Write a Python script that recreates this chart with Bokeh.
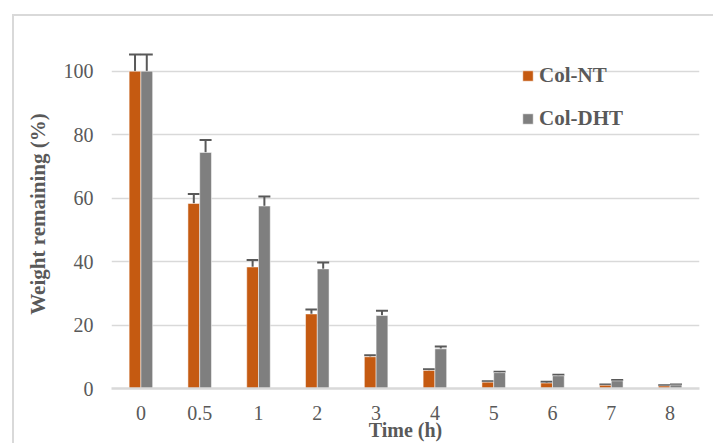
from bokeh.plotting import figure
from bokeh.models import (ColumnDataSource, FactorRange, Range1d, FixedTicker, Whisker, TeeHead,
                          Legend, LegendItem)
from bokeh.transform import dodge
from bokeh.embed import file_html
from bokeh.resources import INLINE

times = ["0", "0.5", "1", "2", "3", "4", "5", "6", "7", "8"]
col_nt = [100, 58.3, 38.3, 23.5, 10.0, 5.7, 2.0, 1.7, 1.0, 0.8]
col_nt_err = [5.3, 3.0, 2.2, 1.4, 0.5, 0.4, 0.3, 0.4, 0.3, 0.2]
col_dht = [100, 74.4, 57.5, 37.7, 23.0, 12.5, 5.0, 4.0, 2.4, 1.1]
col_dht_err = [5.3, 3.9, 3.0, 2.0, 1.5, 0.7, 0.3, 0.3, 0.3, 0.2]
y_ticks = [0, 20, 40, 60, 80, 100]

src = ColumnDataSource(dict(
    t=times, nt=col_nt, dht=col_dht,
    nt_hi=[v + e for v, e in zip(col_nt, col_nt_err)],
    dht_hi=[v + e for v, e in zip(col_dht, col_dht_err)],
))

FONT = "Liberation Serif"
TXT = "#595959"
GRID = "#d9d9d9"
ORANGE = "#C55A11"
GREY = "#7F7F7F"

p = figure(width=701, height=429, x_range=FactorRange(*times, range_padding=0),
           y_range=Range1d(0, 110), output_backend="svg", toolbar_location=None,
           min_border_left=97, min_border_right=16, min_border_top=23, min_border_bottom=57)
p.styles = {"margin-left": "12px", "margin-top": "14px",
            "border-left": "2px solid #d9d9d9", "border-top": "2px solid #d9d9d9"}
p.outline_line_color = None
p.background_fill_color = "white"

r1 = p.vbar(x=dodge("t", -0.1, range=p.x_range), top="nt", width=0.2, source=src,
            fill_color=ORANGE, line_color="white", line_width=0.5)
r2 = p.vbar(x=dodge("t", 0.1, range=p.x_range), top="dht", width=0.2, source=src,
            fill_color=GREY, line_color="white", line_width=0.5)

for base, lo, hi in [(-0.1, "nt", "nt_hi"), (0.1, "dht", "dht_hi")]:
    w = Whisker(base=dodge("t", base, range=p.x_range), lower=lo, upper=hi, source=src,
                line_color=TXT, line_width=2, lower_head=None,
                upper_head=TeeHead(size=12, line_color=TXT, line_width=2))
    p.add_layout(w)

p.xgrid.grid_line_color = None
p.ygrid.grid_line_color = GRID
p.ygrid.grid_line_width = 1.5
p.yaxis.ticker = FixedTicker(ticks=y_ticks)

for ax in (p.xaxis[0], p.yaxis[0]):
    ax.major_tick_line_color = None
    ax.minor_tick_line_color = None
    ax.major_tick_in = 0
    ax.major_tick_out = 0
    ax.major_label_text_font = FONT
    ax.major_label_text_font_size = "20px"
    ax.major_label_text_color = TXT
    ax.axis_label_text_font = FONT
    ax.axis_label_text_font_style = "bold"
    ax.axis_label_text_color = TXT

p.xaxis.axis_line_color = GRID
p.xaxis.axis_line_width = 2.5
p.xaxis.major_label_standoff = 17
p.xaxis.axis_label = "Time (h)"
p.xaxis.axis_label_text_font_size = "20px"
p.xaxis.axis_label_standoff = -4

p.yaxis.axis_line_color = None
p.yaxis.major_label_standoff = 18
p.yaxis.axis_label = "Weight remaining (%)"
p.yaxis.axis_label_text_font_size = "21px"
p.yaxis.axis_label_standoff = 11

legend = Legend(items=[LegendItem(label="Col-NT", renderers=[r1]),
                       LegendItem(label="Col-DHT", renderers=[r2])],
                location=(410, 257), orientation="vertical",
                label_text_font=FONT, label_text_font_size="21px", label_text_font_style="bold",
                label_text_color=TXT, glyph_width=13, glyph_height=13, label_height=13,
                label_standoff=5, spacing=18, padding=0, margin=0,
                background_fill_alpha=0, border_line_color=None)
p.add_layout(legend)

open("out.html", "w").write(file_html(p, INLINE))
